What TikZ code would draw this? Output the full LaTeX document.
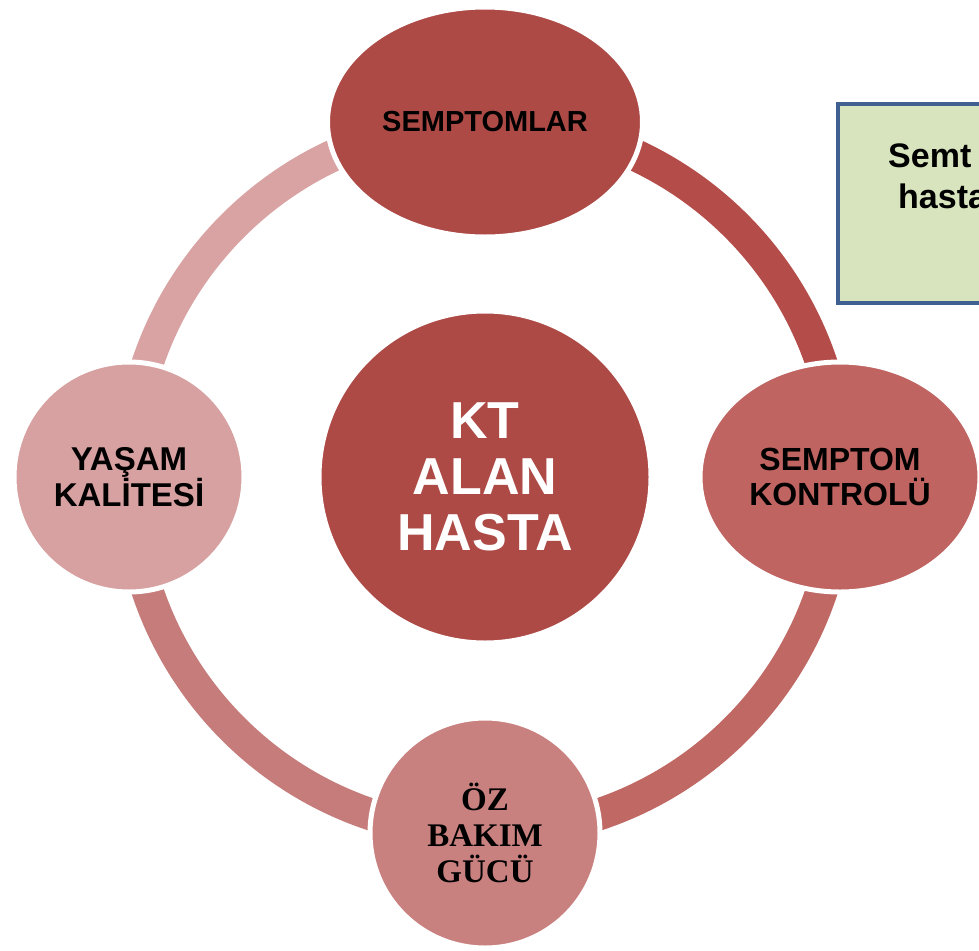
\documentclass[tikz,border=0pt]{standalone}
\usepackage{fontspec}
\usepackage{tikz}
\usetikzlibrary{shapes.geometric, backgrounds}
\newfontfamily\arialfont{Liberation Sans}
\newfontfamily\timesfont{Liberation Serif}
\definecolor{hubred}{HTML}{AD4A46}
\definecolor{topred}{HTML}{AD4A46}
\definecolor{rightred}{HTML}{BF6461}
\definecolor{bottomrose}{HTML}{C98180}
\definecolor{leftrose}{HTML}{D8A1A1}
\definecolor{arcA}{HTML}{B44D4A}
\definecolor{arcB}{HTML}{C06864}
\definecolor{arcC}{HTML}{C57C7A}
\definecolor{arcD}{HTML}{D9A3A3}
\definecolor{boxblue}{HTML}{3F6090}
\definecolor{boxgreen}{HTML}{D7E4BD}

\begin{document}
\begin{tikzpicture}[x=1pt,y=-1pt,
    bubble/.style={draw=white,line width=5pt,inner sep=0pt,align=center,text=black},
    ringseg/.style={line width=32pt,bend left=45}]
    \useasboundingbox (0,0) rectangle (979,950);
    % hub and the four stations of the cycle
    \node[bubble,circle,fill=hubred,minimum size=332pt,text=white,
      font=\arialfont\bfseries\fontsize{52}{56}\selectfont] (hub) at (485,477) {KT\\ALAN\\HASTA};
    \node[bubble,ellipse,fill=topred,minimum width=315pt,minimum height=230pt,
      font=\arialfont\bfseries\fontsize{29}{35}\selectfont] (sym) at (485,122) {SEMPTOMLAR};
    \node[bubble,ellipse,fill=rightred,minimum width=280pt,minimum height=230pt,
      font=\arialfont\bfseries\fontsize{32}{35}\selectfont] (ctrl) at (840,477) {SEMPTOM\\KONTROLÜ};
    \node[bubble,circle,fill=bottomrose,minimum size=230pt,
      font=\timesfont\bfseries\fontsize{33}{36}\selectfont] (care) at (485,833) {ÖZ\\BAKIM\\GÜCÜ};
    \node[bubble,circle,fill=leftrose,minimum size=230pt,
      font=\arialfont\bfseries\fontsize{33}{35}\selectfont] (life) at (129,477) {YAŞAM\\KALİTESİ};
    \begin{scope}[on background layer]
    \path
      (sym.center) edge[ringseg,draw=arcA] (ctrl.center)
      (ctrl.center) edge[ringseg,draw=arcB] (care.center)
      (care.center) edge[ringseg,draw=arcC] (life.center)
      (life.center) edge[ringseg,draw=arcD] (sym.center);
    \end{scope}
    % note box, cut by the right edge
    \node[draw=boxblue,fill=boxgreen,line width=4pt,anchor=north west,
      minimum width=300pt,minimum height=199pt] (note) at (836,102) {};
    \node[anchor=base west,inner sep=0pt,font=\arialfont\bfseries\fontsize{34}{40}\selectfont]
      (noteA) at (888,167) {Semt};
    \node[anchor=base west,inner sep=0pt,font=\arialfont\bfseries\fontsize{34}{40}\selectfont]
      (noteB) at (898,208) {hasta};
\end{tikzpicture}
\end{document}
